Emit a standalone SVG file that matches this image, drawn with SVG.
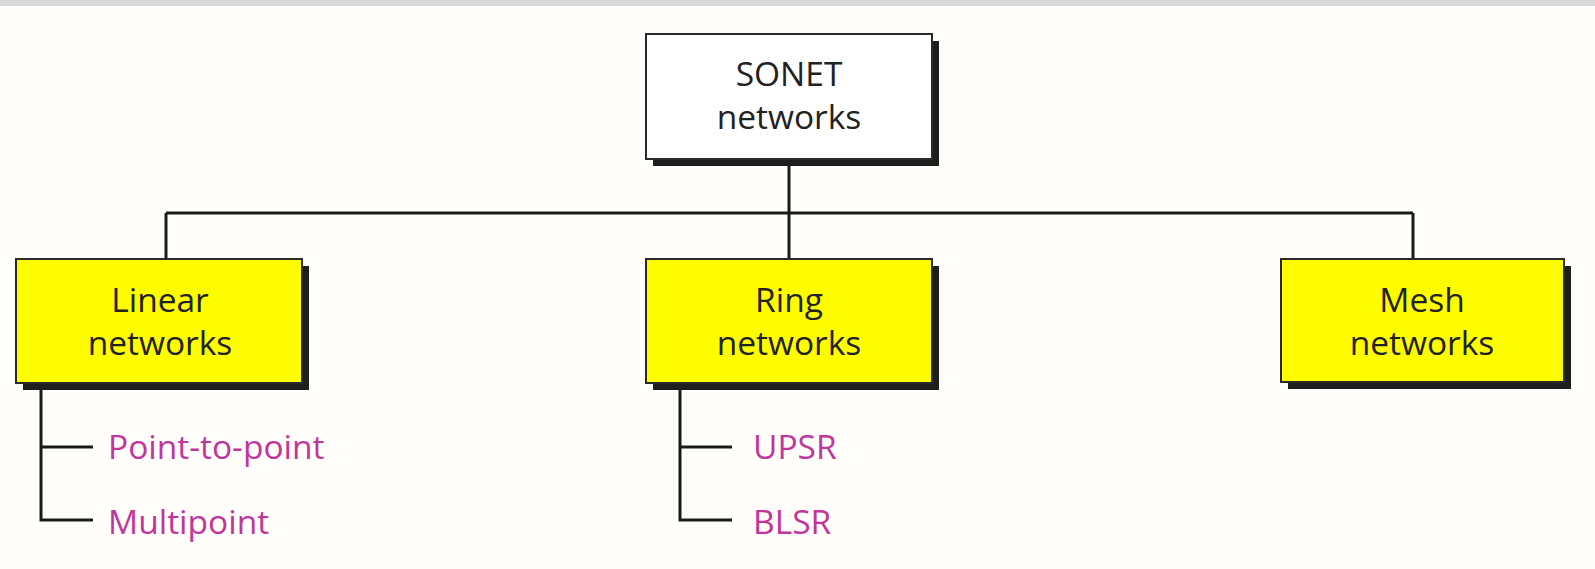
<svg xmlns="http://www.w3.org/2000/svg" width="1595" height="569" viewBox="0 0 1595 569">
<style>
.bg{fill:#fffefa}
.shadow{fill:#1e1e1e}
.box{stroke:#2a2a2a;stroke-width:2}
.white{fill:#ffffff}
.yellow{fill:#fffc00}
.lbl{font-family:"Open Sans","Liberation Sans",sans-serif;font-size:33.5px;fill:#222;text-anchor:middle}
.sub{font-family:"Open Sans","Liberation Sans",sans-serif;font-size:33.5px;fill:#c0369c}
.conn{stroke:#1a1a1a;stroke-width:3;fill:none}
</style>
<rect class="bg" x="0" y="0" width="1595" height="569"/>
<rect x="0" y="0" width="1595" height="6" fill="#d8d8d8"/>
<g id="connectors">
<path class="conn" d="M789 160 V213 M166 213 H1413 M166 213 V259 M789 213 V259 M1413 213 V259"/>
<path class="conn" d="M41 383 V520 H93 M41 447 H93"/>
<path class="conn" d="M680 383 V520 H732 M680 447 H732"/>
</g>
<g id="sonet">
<rect class="shadow" x="653" y="41" width="286" height="125"/>
<rect class="box white" x="646" y="34" width="286" height="125"/>
<text class="lbl" x="789" y="86">SONET</text>
<text class="lbl" x="789" y="129">networks</text>
</g>
<g id="linear">
<rect class="shadow" x="23" y="266" width="286" height="124"/>
<rect class="box yellow" x="16" y="259" width="286" height="124"/>
<text class="lbl" x="160" y="312">Linear</text>
<text class="lbl" x="160" y="355">networks</text>
</g>
<g id="point-to-point"><text class="sub" x="108" y="459">Point-to-point</text></g>
<g id="multipoint"><text class="sub" x="108" y="534">Multipoint</text></g>
<g id="ring">
<rect class="shadow" x="653" y="266" width="286" height="124"/>
<rect class="box yellow" x="646" y="259" width="286" height="124"/>
<text class="lbl" x="789" y="312">Ring</text>
<text class="lbl" x="789" y="355">networks</text>
</g>
<g id="upsr"><text class="sub" x="753" y="459">UPSR</text></g>
<g id="blsr"><text class="sub" x="753" y="534">BLSR</text></g>
<g id="mesh">
<rect class="shadow" x="1288" y="266" width="283" height="123"/>
<rect class="box yellow" x="1281" y="259" width="283" height="123"/>
<text class="lbl" x="1422" y="312">Mesh</text>
<text class="lbl" x="1422" y="355">networks</text>
</g>
</svg>
